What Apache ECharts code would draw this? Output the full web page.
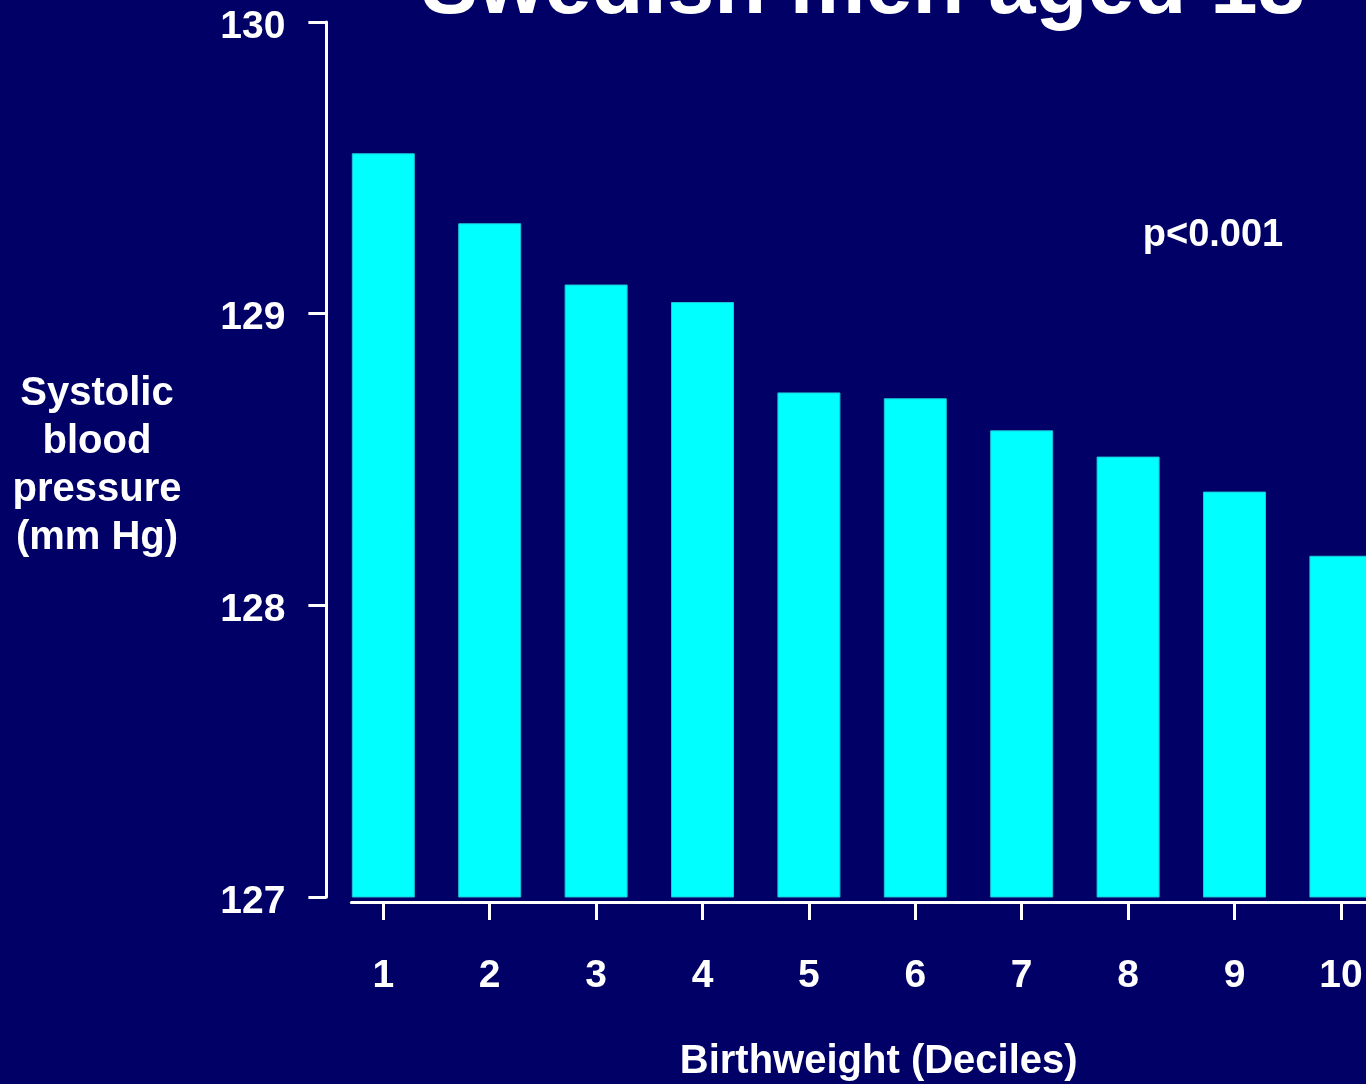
<!DOCTYPE html>
<html>
<head>
<meta charset="utf-8">
<title>Systolic blood pressure by birthweight decile</title>
<script src="https://cdn.jsdelivr.net/npm/echarts@6/dist/echarts.min.js"></script>
<style>
  html, body { margin: 0; padding: 0; background: #000066; overflow: hidden; }
  #chart { width: 1366px; height: 1084px; }
</style>
</head>
<body>
<div id="chart"></div>
<script>
// birthweight deciles and mean systolic pressure (mm Hg)
const deciles = [1, 2, 3, 4, 5, 6, 7, 8, 9, 10]
const systolic = [129.55, 129.31, 129.10, 129.04, 128.73, 128.71, 128.60, 128.51, 128.39, 128.17]
const yTicks = [127, 128, 129, 130]

const titleText = 'Swedish men aged 18'
const pText = 'p<0.001'
const yName = 'Systolic\nblood\npressure\n(mm Hg)'
const xName = 'Birthweight (Deciles)'

const white = '#ffffff'
const sans = "'Liberation Sans', Arial, sans-serif"

const chart = echarts.init(document.getElementById('chart'))

// the slide is cropped on the right: decile 10 sits right at the edge
const option = {
  backgroundColor: '#000066',
  animation: false,
  title: [
    {
      text: titleText,
      left: 858,
      textAlign: 'center',
      top: -58,
      textStyle: { color: white, fontFamily: sans, fontWeight: 'bold', fontSize: 85 }
    },
    {
      text: pText,
      left: 1208,
      textAlign: 'center',
      top: 212,
      textStyle: { color: white, fontFamily: sans, fontWeight: 'bold', fontSize: 38 }
    },
    {
      // y axis title, kept as a block of centred lines left of the axis
      text: yName,
      left: 97,
      textAlign: 'center',
      top: 370,
      padding: 0,
      textStyle: { color: white, fontFamily: sans, fontWeight: 'bold', fontSize: 40, lineHeight: 48 }
    }
  ],
  grid: {
    left: 351.4,
    top: 22,
    right: 0,
    bottom: 187,
    outerBoundsMode: 'none'
  },
  xAxis: {
    type: 'value',
    min: 0.7,
    max: 10.236,
    offset: 5,
    splitLine: { show: false },
    axisLine: { show: true, lineStyle: { color: white, width: 3 } },
    axisTick: { show: true, customValues: deciles, length: 18, lineStyle: { color: white, width: 3 } },
    axisLabel: {
      customValues: deciles,
      margin: 55,
      color: white,
      fontFamily: sans,
      fontWeight: 'bold',
      fontSize: 39
    },
    name: xName,
    nameLocation: 'middle',
    nameGap: 140,
    nameTextStyle: {
      color: white,
      fontFamily: sans,
      fontWeight: 'bold',
      fontSize: 40,
      padding: [0, 0, 0, 40]
    }
  },
  yAxis: {
    type: 'value',
    min: yTicks[0],
    max: yTicks[yTicks.length - 1],
    interval: 1,
    offset: 25,
    splitLine: { show: false },
    axisLine: { show: true, lineStyle: { color: white, width: 3 } },
    axisTick: { show: true, length: 18, lineStyle: { color: white, width: 3 } },
    axisLabel: {
      margin: 41,
      verticalAlign: 'top',
      lineHeight: 10,
      color: white,
      fontFamily: sans,
      fontWeight: 'bold',
      fontSize: 39
    }
  },
  series: [
    {
      type: 'bar',
      barWidth: 63,
      data: deciles.map((d, i) => [d, systolic[i]]),
      itemStyle: {
        color: '#00ffff',
        borderColor: '#1fc4d4',
        borderWidth: 1
      }
    }
  ]
}

chart.setOption(option)
window.addEventListener('resize', () => chart.resize())
</script>
</body>
</html>
